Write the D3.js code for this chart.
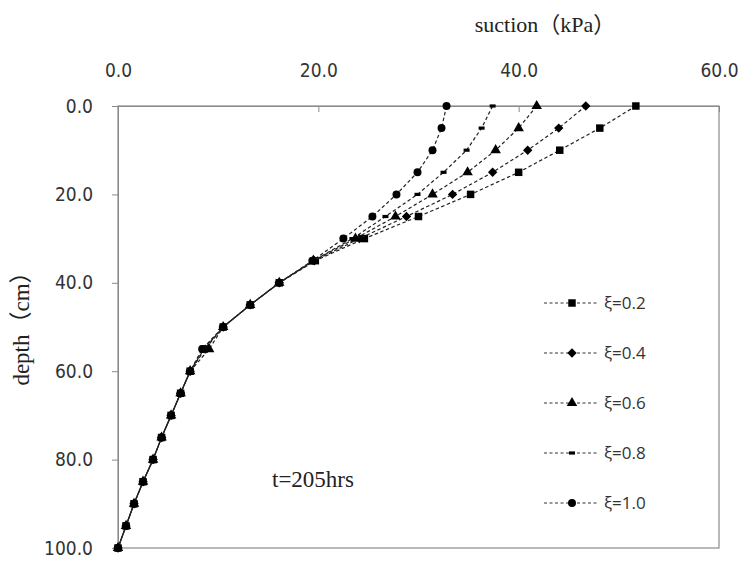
<!DOCTYPE html>
<html>
<head>
<meta charset="utf-8">
<script src="https://cdn.jsdelivr.net/npm/d3@7"></script>
<style>
  body { margin: 0; background: #fff; }
  svg { display: block; }
</style>
</head>
<body>
<div id="chart"></div>
<script>
// depth (cm) of each measuring point
const depths = [0, 5, 10, 15, 20, 25, 30, 35, 40, 45, 50, 55, 60, 65, 70, 75, 80, 85, 90, 95, 100];

// suction (kPa) per series
const xi02 = [51.7, 48.1, 44.1, 40.0, 35.2, 30.0, 24.6, 19.7, 16.1, 13.2, 10.5, 8.6, 7.2, 6.25, 5.3, 4.35, 3.5, 2.5, 1.6, 0.8, 0.0];
const xi04 = [46.7, 44.0, 40.9, 37.4, 33.4, 28.8, 24.1, 19.6, 16.1, 13.2, 10.5, 8.7, 7.2, 6.25, 5.3, 4.35, 3.5, 2.5, 1.6, 0.8, 0.0];
const xi06 = [41.8, 40.0, 37.7, 34.9, 31.4, 27.7, 23.7, 19.5, 16.1, 13.2, 10.5, 9.1, 7.2, 6.25, 5.3, 4.35, 3.5, 2.5, 1.6, 0.8, 0.0];
const xi08 = [37.4, 36.3, 34.8, 32.5, 29.9, 26.7, 23.4, 19.5, 16.1, 13.2, 10.5, 8.5, 7.2, 6.25, 5.3, 4.35, 3.5, 2.5, 1.6, 0.8, 0.0];
const xi10 = [32.8, 32.3, 31.4, 29.9, 27.8, 25.4, 22.5, 19.4, 16.1, 13.2, 10.5, 8.4, 7.2, 6.25, 5.3, 4.35, 3.5, 2.5, 1.6, 0.8, 0.0];

const seriesNames = ["ξ=0.2", "ξ=0.4", "ξ=0.6", "ξ=0.8", "ξ=1.0"];
const xTicks = [0, 20, 40, 60];
const yTicks = [0, 20, 40, 60, 80, 100];

const W = 741, H = 563;
const svg = d3.select("#chart").append("svg")
    .attr("width", W)
    .attr("height", H);

const x = d3.scaleLinear().domain([0, 60]).range([118, 719]);
const y = d3.scaleLinear().domain([0, 100]).range([106, 548]);

const tickFont = "'Liberation Sans Narrow', 'DejaVu Sans Condensed', 'Liberation Sans', sans-serif";
const serif = "'Liberation Serif', 'DejaVu Serif', 'Noto Sans CJK SC', serif";

// plot area border
svg.append("rect")
    .attr("x", x(0)).attr("y", y(0))
    .attr("width", x(60) - x(0)).attr("height", y(100) - y(0))
    .attr("fill", "none")
    .attr("stroke", "#8a8a8a")
    .attr("stroke-width", 1.2);

// top axis, ticks pointing into the plot
const xAxis = svg.append("g")
    .attr("transform", `translate(0,${y(0)})`)
    .call(d3.axisTop(x).tickValues(xTicks).tickSizeInner(-6).tickSizeOuter(0).tickPadding(29).tickFormat(d3.format(".1f")));
xAxis.select(".domain").attr("stroke", "#8a8a8a");
xAxis.selectAll(".tick line").attr("stroke", "#8a8a8a");
xAxis.selectAll(".tick text")
    .attr("font-family", tickFont)
    .attr("font-size", 19)
    .attr("fill", "#333");

// left axis, ticks pointing outwards
const yAxis = svg.append("g")
    .attr("transform", `translate(${x(0)},0)`)
    .call(d3.axisLeft(y).tickValues(yTicks).tickSizeInner(6).tickSizeOuter(0).tickPadding(19).tickFormat(d3.format(".1f")));
yAxis.select(".domain").attr("stroke", "#8a8a8a");
yAxis.selectAll(".tick line").attr("stroke", "#8a8a8a");
yAxis.selectAll(".tick text")
    .attr("font-family", tickFont)
    .attr("font-size", 19)
    .attr("fill", "#333");

// axis titles
svg.append("text")
    .attr("x", 545).attr("y", 32)
    .attr("text-anchor", "middle")
    .attr("font-family", serif)
    .attr("font-size", 22)
    .attr("fill", "#222")
    .text("suction（kPa）");

svg.append("text")
    .attr("transform", "translate(29,323) rotate(-90)")
    .attr("text-anchor", "middle")
    .attr("font-family", serif)
    .attr("font-size", 23)
    .attr("fill", "#222")
    .text("depth（cm）");

svg.append("text")
    .attr("x", 272).attr("y", 487)
    .attr("font-family", serif)
    .attr("font-size", 23)
    .attr("fill", "#222")
    .text("t=205hrs");

// series markers
const diamond = { draw(ctx, size) { const r = Math.sqrt(size / 2); ctx.moveTo(0, -r); ctx.lineTo(r, 0); ctx.lineTo(0, r); ctx.lineTo(-r, 0); ctx.closePath(); } };
const allSeries = [xi02, xi04, xi06, xi08, xi10];
const symbols = [
    d3.symbol().type(d3.symbolSquare).size(56),
    d3.symbol().type(diamond).size(44),
    d3.symbol().type(d3.symbolTriangle).size(48),
    null,
    d3.symbol().type(d3.symbolCircle).size(50)
];

const line = d3.line()
    .x(d => x(d[0]))
    .y(d => y(d[1]));

function drawMarker(g, i, cx, cy) {
    if (symbols[i]) {
        g.append("path")
            .attr("d", symbols[i]())
            .attr("transform", `translate(${cx},${cy})`)
            .attr("fill", "#000");
    } else {
        g.append("rect")
            .attr("x", cx - 3).attr("y", cy - 1.6)
            .attr("width", 6).attr("height", 3.2)
            .attr("fill", "#000");
    }
}

allSeries.forEach((vals, i) => {
    const pts = vals.map((v, k) => [v, depths[k]]);
    const g = svg.append("g").attr("class", "series");
    g.append("path")
        .datum(pts)
        .attr("d", line)
        .attr("fill", "none")
        .attr("stroke", "#222")
        .attr("stroke-width", 1.2)
        .attr("stroke-dasharray", "3.5,2.5");
    pts.forEach(p => drawMarker(g, i, x(p[0]), y(p[1])));
});

// legend
const legend = svg.append("g").attr("class", "legend");
seriesNames.forEach((name, i) => {
    const ly = 303 + i * 50;
    legend.append("line")
        .attr("x1", 544).attr("x2", 598)
        .attr("y1", ly).attr("y2", ly)
        .attr("stroke", "#333")
        .attr("stroke-width", 1)
        .attr("stroke-dasharray", "3,2.5");
    drawMarker(legend, i, 572, ly);
    legend.append("text")
        .attr("x", 604).attr("y", ly + 6)
        .attr("font-family", "'Open Sans', 'Liberation Sans', sans-serif")
        .attr("font-size", 17)
        .attr("fill", "#333")
        .text(name);
});
</script>
</body>
</html>
